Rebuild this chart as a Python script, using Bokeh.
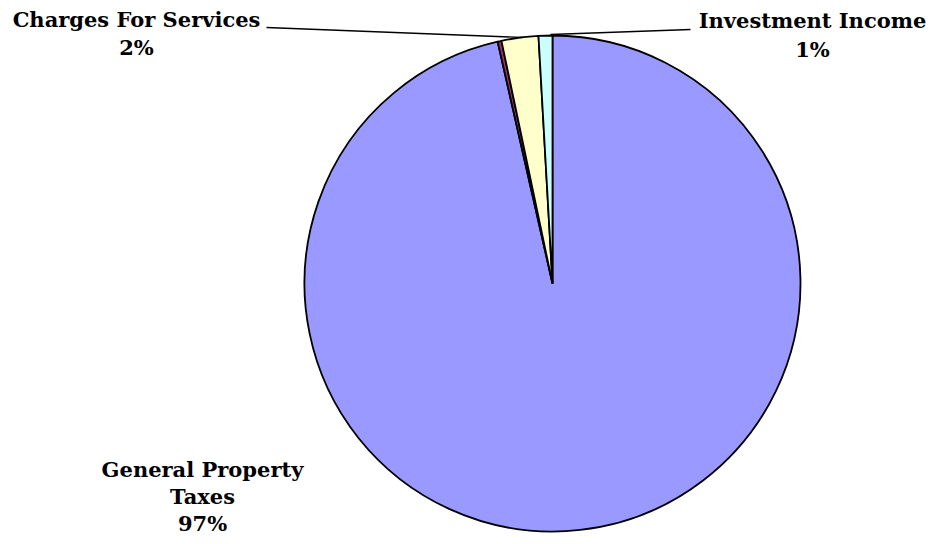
import math
from bokeh.plotting import figure
from bokeh.models import ColumnDataSource
from bokeh.core.properties import value
from bokeh.embed import file_html
from bokeh.resources import INLINE

# data (clockwise from 12 o'clock)
categories = ["General Property Taxes", "Other", "Charges For Services", "Investment Income"]
shares = [96.45, 0.25, 2.4, 0.9]
colors = ["#9999FF", "#993366", "#FFFFCC", "#CCFFFF"]
label_text = ["97%", "", "2%", "1%"]

W, H = 932, 544
p = figure(width=W, height=H, x_range=(0, W), y_range=(0, H),
           output_backend="svg", toolbar_location=None, min_border=0)
p.axis.visible = False
p.grid.visible = False
p.outline_line_color = None

def Y(yimg):
    return H - yimg
def X(ximg):
    return ximg

cx, cy, r = X(552), Y(283), 248
total = sum(shares)
starts, ends = [], []
acc = 0.0
for s in shares:
    a0 = math.pi / 2 - 2 * math.pi * acc / total
    acc += s
    a1 = math.pi / 2 - 2 * math.pi * acc / total
    starts.append(a1)
    ends.append(a0)

src = ColumnDataSource(dict(cat=categories, start=starts, end=ends, color=colors))
p.wedge(x=cx, y=cy, radius=r, start_angle="start", end_angle="end",
        direction="anticlock", fill_color="color", line_color="black", line_width=1.8,
        source=src)

# leader lines
p.line([X(266), X(522)], [Y(27), Y(37)], line_color="black", line_width=1.3)
p.line([X(690), X(550)], [Y(29), Y(34)], line_color="black", line_width=1.3)

tx = [X(136), X(136), X(812), X(812), X(202), X(202), X(202)]
ty = [Y(19), Y(47), Y(20), Y(49), Y(469), Y(496), Y(523)]
tt = ["Charges For Services", label_text[2], "Investment Income", label_text[3],
      "General Property", "Taxes", label_text[0]]
p.text(x=tx, y=ty, text=tt, text_align="center", text_baseline="middle",
       text_font=value("DejaVu Serif"), text_font_style="bold",
       text_font_size="21px", text_color="black")

open("out.html", "w").write(file_html(p, INLINE))
